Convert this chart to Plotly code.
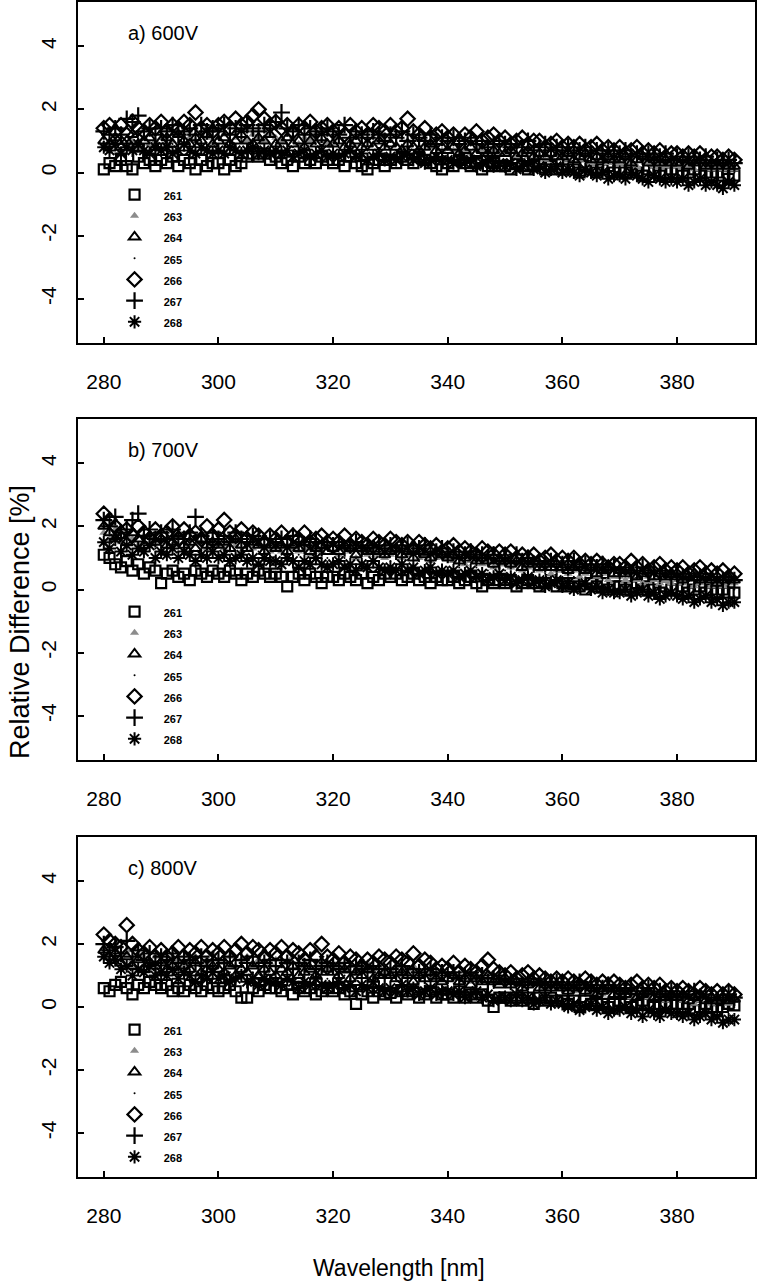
import plotly.graph_objects as go

wavelength = list(range(280, 391))
series_names = ["261", "263", "264", "265", "266", "267", "268"]
panel_titles = ["a) 600V", "b) 700V", "c) 800V"]
x_ticks = [280, 300, 320, 340, 360, 380]
y_ticks = [-4, -2, 0, 2, 4]
y_tick_labels = ["-4", "-2", "0", "2", "4"]

# ---------------- panel a: 600 V ----------------
a_261 = [0.1, 0.3, 0.2, 0.4, 0.2, 0.1, 0.5, 0.3, 0.4, 0.2,
         0.4, 0.3, 0.5, 0.2, 0.4, 0.3, 0.1, 0.4, 0.2, 0.3,
         0.3, 0.1, 0.4, 0.2, 0.3, 0.5, 0.6, 0.5, 0.6, 0.4,
         0.5, 0.3, 0.4, 0.2, 0.5, 0.3, 0.4, 0.3, 0.5, 0.4,
         0.3, 0.4, 0.2, 0.5, 0.3, 0.2, 0.1, 0.3, 0.4, 0.2,
         0.4, 0.3, 0.5, 0.4, 0.3, 0.5, 0.4, 0.3, 0.2, 0.1,
         0.3, 0.2, 0.4, 0.3, 0.2, 0.3, 0.1, 0.2, 0.3, 0.2,
         0.2, 0.1, 0.3, 0.2, 0.1, 0.2, 0.3, 0.1, 0.2, 0.1,
         0.1, 0.2, 0.1, 0.0, 0.2, 0.1, 0.0, 0.1, 0.2, 0.0,
         0.1, 0.0, 0.1, 0.0, -0.1, 0.1, 0.0, -0.1, 0.0, 0.1,
         0.0, -0.1, 0.0, 0.1, -0.1, 0.0, -0.1, 0.0, -0.1, -0.2,
         -0.1]
a_263 = [0.9, 0.8, 1.0, 0.7, 0.9, 1.0, 0.8, 1.1, 0.9, 1.0,
         1.1, 0.9, 1.0, 1.2, 0.9, 1.1, 1.0, 1.2, 1.1, 0.9,
         1.1, 1.2, 1.0, 1.1, 1.3, 1.0, 1.2, 1.1, 1.0, 1.2,
         1.1, 1.0, 1.2, 1.1, 0.9, 1.1, 1.0, 1.2, 1.0, 0.9,
         1.0, 1.1, 0.9, 1.0, 1.1, 0.9, 1.0, 0.9, 1.1, 0.9,
         1.0, 0.9, 0.8, 1.0, 0.9, 0.8, 0.9, 0.8, 0.9, 0.7,
         0.8, 0.7, 0.8, 0.7, 0.6, 0.8, 0.7, 0.6, 0.7, 0.6,
         0.6, 0.7, 0.5, 0.6, 0.5, 0.6, 0.5, 0.4, 0.5, 0.6,
         0.5, 0.4, 0.5, 0.4, 0.5, 0.3, 0.4, 0.5, 0.3, 0.4,
         0.3, 0.4, 0.3, 0.2, 0.4, 0.3, 0.2, 0.3, 0.2, 0.3,
         0.2, 0.3, 0.2, 0.1, 0.3, 0.2, 0.1, 0.2, 0.1, 0.2,
         0.1]
a_264 = [1.0, 0.9, 1.1, 0.8, 1.0, 1.2, 0.9, 1.0, 1.1, 0.8,
         1.0, 1.1, 0.9, 1.2, 1.0, 0.9, 1.1, 1.0, 1.2, 0.9,
         1.0, 1.1, 0.9, 1.0, 1.2, 1.0, 0.9, 1.1, 1.0, 1.2,
         0.9, 1.0, 1.1, 0.9, 1.0, 0.8, 1.0, 0.9, 1.1, 0.9,
         0.9, 1.0, 0.8, 0.9, 1.0, 0.8, 0.9, 0.8, 1.0, 0.8,
         0.9, 0.8, 0.7, 0.9, 0.8, 0.7, 0.8, 0.9, 0.7, 0.8,
         0.7, 0.8, 0.6, 0.7, 0.8, 0.6, 0.7, 0.6, 0.7, 0.6,
         0.6, 0.7, 0.5, 0.6, 0.7, 0.5, 0.6, 0.5, 0.6, 0.5,
         0.5, 0.6, 0.4, 0.5, 0.6, 0.4, 0.5, 0.4, 0.5, 0.4,
         0.4, 0.5, 0.3, 0.4, 0.5, 0.3, 0.4, 0.3, 0.4, 0.3,
         0.3, 0.4, 0.2, 0.3, 0.4, 0.2, 0.3, 0.2, 0.3, 0.2,
         0.2]
a_265 = [0.7, 0.6, 0.8, 0.7, 0.6, 0.8, 0.7, 0.9, 0.6, 0.7,
         0.8, 0.7, 0.9, 0.8, 0.7, 0.8, 0.9, 0.7, 0.8, 0.9,
         0.8, 0.9, 0.7, 0.8, 1.0, 0.8, 0.9, 0.8, 0.7, 0.9,
         0.8, 0.7, 0.9, 0.8, 0.7, 0.8, 0.7, 0.9, 0.8, 0.7,
         0.7, 0.8, 0.6, 0.7, 0.8, 0.6, 0.7, 0.6, 0.7, 0.6,
         0.6, 0.7, 0.5, 0.6, 0.7, 0.5, 0.6, 0.5, 0.6, 0.5,
         0.5, 0.6, 0.4, 0.5, 0.6, 0.4, 0.5, 0.4, 0.5, 0.4,
         0.4, 0.5, 0.3, 0.4, 0.5, 0.3, 0.4, 0.3, 0.4, 0.3,
         0.3, 0.4, 0.2, 0.3, 0.4, 0.2, 0.3, 0.2, 0.3, 0.2,
         0.2, 0.3, 0.1, 0.2, 0.1, 0.2, 0.1, 0.0, 0.1, 0.2,
         0.1, 0.0, 0.1, 0.0, 0.1, -0.1, 0.0, 0.1, 0.0, -0.1,
         0.0]
a_266 = [1.4, 1.5, 1.3, 1.5, 1.2, 1.6, 1.4, 1.3, 1.5, 1.4,
         1.6, 1.3, 1.5, 1.4, 1.6, 1.5, 1.9, 1.4, 1.5, 1.3,
         1.5, 1.6, 1.4, 1.7, 1.5, 1.6, 1.8, 2.0, 1.7, 1.5,
         1.6, 1.4, 1.5, 1.3, 1.5, 1.4, 1.6, 1.3, 1.4, 1.5,
         1.3, 1.4, 1.2, 1.5, 1.3, 1.4, 1.2, 1.5, 1.4, 1.3,
         1.5, 1.3, 1.4, 1.7, 1.3, 1.2, 1.4, 1.1, 1.2, 1.3,
         1.1, 1.2, 1.0, 1.2, 1.1, 1.3, 1.0, 1.1, 1.2, 1.0,
         1.1, 0.9, 1.0, 1.1, 0.9, 1.0, 1.0, 0.8, 0.9, 1.0,
         0.8, 0.9, 0.8, 0.9, 0.7, 0.8, 0.9, 0.7, 0.8, 0.7,
         0.8, 0.6, 0.7, 0.8, 0.6, 0.7, 0.6, 0.7, 0.5, 0.6,
         0.6, 0.5, 0.6, 0.5, 0.6, 0.4, 0.5, 0.5, 0.4, 0.5,
         0.4]
a_267 = [1.3, 1.2, 1.4, 1.2, 1.7, 1.6, 1.8, 1.3, 1.4, 1.2,
         1.4, 1.3, 1.5, 1.2, 1.3, 1.4, 1.2, 1.5, 1.3, 1.4,
         1.3, 1.5, 1.2, 1.4, 1.3, 1.5, 1.4, 1.3, 1.5, 1.4,
         1.6, 1.9, 1.4, 1.3, 1.5, 1.2, 1.4, 1.3, 1.2, 1.4,
         1.3, 1.2, 1.5, 1.1, 1.3, 1.2, 1.1, 1.3, 1.2, 1.0,
         1.2, 1.1, 1.3, 1.0, 1.2, 1.1, 1.0, 1.2, 0.9, 1.1,
         1.0, 1.1, 0.9, 1.0, 1.1, 0.9, 1.0, 0.8, 0.9, 1.0,
         0.9, 0.8, 0.9, 0.8, 1.0, 0.7, 0.8, 0.9, 0.7, 0.8,
         0.7, 0.8, 0.6, 0.7, 0.8, 0.6, 0.7, 0.6, 0.7, 0.5,
         0.6, 0.7, 0.5, 0.6, 0.5, 0.6, 0.4, 0.5, 0.6, 0.4,
         0.5, 0.4, 0.5, 0.3, 0.4, 0.5, 0.3, 0.4, 0.3, 0.4,
         0.3]
a_268 = [0.8, 0.7, 0.9, 0.6, 0.8, 0.7, 0.9, 0.7, 0.6, 0.8,
         0.7, 0.8, 0.6, 0.7, 0.9, 0.7, 0.6, 0.8, 0.7, 0.6,
         0.7, 0.6, 0.8, 0.7, 0.6, 0.7, 0.8, 0.6, 0.7, 0.6,
         0.7, 0.6, 0.7, 0.5, 0.6, 0.7, 0.5, 0.6, 0.7, 0.5,
         0.6, 0.5, 0.6, 0.7, 0.5, 0.6, 0.4, 0.5, 0.6, 0.4,
         0.5, 0.4, 0.5, 0.6, 0.4, 0.5, 0.3, 0.4, 0.5, 0.4,
         0.4, 0.3, 0.4, 0.3, 0.4, 0.2, 0.3, 0.4, 0.2, 0.3,
         0.2, 0.3, 0.1, 0.2, 0.3, 0.1, 0.2, 0.0, 0.1, 0.2,
         0.0, 0.1, 0.0, -0.1, 0.1, 0.0, -0.1, 0.0, -0.2, -0.1,
         -0.1, -0.2, 0.0, -0.1, -0.2, -0.3, -0.1, -0.2, -0.3, -0.2,
         -0.3, -0.2, -0.4, -0.3, -0.2, -0.4, -0.3, -0.4, -0.5, -0.3,
         -0.4]

# ---------------- panel b: 700 V ----------------
b_261 = [1.1, 1.0, 0.8, 0.7, 0.9, 0.6, 0.8, 0.5, 0.7, 0.6,
         0.2, 0.5, 0.6, 0.4, 0.5, 0.3, 0.6, 0.5, 0.4, 0.6,
         0.5, 0.4, 0.6, 0.5, 0.3, 0.5, 0.4, 0.6, 0.5, 0.4,
         0.5, 0.4, 0.1, 0.4, 0.5, 0.3, 0.5, 0.4, 0.2, 0.4,
         0.4, 0.3, 0.5, 0.4, 0.3, 0.5, 0.2, 0.4, 0.3, 0.5,
         0.4, 0.5, 0.3, 0.4, 0.5, 0.3, 0.4, 0.2, 0.4, 0.3,
         0.3, 0.4, 0.2, 0.3, 0.4, 0.2, 0.1, 0.3, 0.2, 0.3,
         0.2, 0.3, 0.1, 0.2, 0.3, 0.2, 0.1, 0.2, 0.3, 0.1,
         0.2, 0.1, 0.2, 0.1, 0.0, 0.2, 0.1, 0.2, 0.0, 0.1,
         0.1, 0.0, 0.1, 0.2, 0.0, 0.1, 0.0, -0.1, 0.1, 0.0,
         0.0, 0.1, -0.1, 0.0, 0.1, -0.1, 0.0, -0.1, 0.0, -0.1,
         -0.1]
b_263 = [1.8, 1.6, 1.9, 1.5, 1.7, 1.6, 1.4, 1.7, 1.5, 1.6,
         1.5, 1.6, 1.4, 1.7, 1.5, 1.4, 1.6, 1.5, 1.3, 1.5,
         1.4, 1.3, 1.5, 1.4, 1.2, 1.4, 1.3, 1.5, 1.3, 1.2,
         1.3, 1.2, 1.4, 1.3, 1.2, 1.3, 1.1, 1.3, 1.2, 1.4,
         1.2, 1.1, 1.3, 1.2, 1.0, 1.2, 1.1, 1.3, 1.1, 1.0,
         1.1, 1.2, 1.0, 1.1, 1.2, 1.0, 1.1, 0.9, 1.0, 1.1,
         1.0, 0.9, 1.0, 0.8, 0.9, 1.0, 0.8, 0.9, 0.7, 0.8,
         0.8, 0.7, 0.8, 0.6, 0.7, 0.8, 0.6, 0.7, 0.5, 0.6,
         0.6, 0.5, 0.6, 0.4, 0.5, 0.6, 0.4, 0.5, 0.3, 0.4,
         0.4, 0.3, 0.4, 0.3, 0.2, 0.4, 0.3, 0.2, 0.3, 0.2,
         0.3, 0.2, 0.3, 0.1, 0.2, 0.3, 0.1, 0.2, 0.1, 0.2,
         0.2]
b_264 = [2.0, 1.8, 1.6, 1.7, 1.5, 1.8, 1.6, 1.4, 1.7, 1.5,
         1.6, 1.4, 1.5, 1.7, 1.4, 1.5, 1.3, 1.6, 1.4, 1.5,
         1.4, 1.5, 1.3, 1.6, 1.4, 1.3, 1.5, 1.4, 1.2, 1.4,
         1.3, 1.4, 1.2, 1.4, 1.3, 1.5, 1.2, 1.3, 1.4, 1.2,
         1.3, 1.2, 1.4, 1.3, 1.1, 1.3, 1.2, 1.4, 1.2, 1.1,
         1.2, 1.3, 1.1, 1.2, 1.0, 1.2, 1.1, 1.0, 1.2, 1.1,
         1.0, 1.1, 0.9, 1.0, 1.1, 0.9, 1.0, 0.9, 0.8, 0.9,
         0.9, 0.8, 0.9, 0.7, 0.8, 0.9, 0.7, 0.8, 0.7, 0.8,
         0.7, 0.6, 0.7, 0.8, 0.6, 0.7, 0.5, 0.6, 0.7, 0.5,
         0.6, 0.5, 0.6, 0.4, 0.5, 0.6, 0.4, 0.5, 0.4, 0.5,
         0.4, 0.3, 0.4, 0.5, 0.3, 0.4, 0.3, 0.2, 0.3, 0.4,
         0.3]
b_265 = [1.5, 1.3, 1.4, 1.2, 1.4, 1.1, 1.3, 1.2, 1.0, 1.3,
         1.1, 1.2, 1.0, 1.2, 1.1, 1.3, 1.0, 1.1, 1.2, 1.0,
         1.1, 1.0, 1.2, 1.1, 0.9, 1.1, 1.0, 1.2, 1.0, 0.9,
         1.0, 1.1, 0.9, 1.0, 1.1, 0.9, 1.0, 0.9, 1.1, 1.0,
         1.0, 0.9, 1.0, 0.8, 1.0, 0.9, 0.8, 1.0, 0.9, 0.8,
         0.9, 0.8, 0.9, 0.7, 0.8, 0.9, 0.7, 0.8, 0.7, 0.8,
         0.7, 0.6, 0.7, 0.8, 0.6, 0.7, 0.5, 0.6, 0.7, 0.5,
         0.6, 0.5, 0.6, 0.4, 0.5, 0.6, 0.4, 0.5, 0.4, 0.5,
         0.4, 0.3, 0.4, 0.5, 0.3, 0.4, 0.2, 0.3, 0.4, 0.2,
         0.3, 0.2, 0.3, 0.1, 0.2, 0.3, 0.1, 0.2, 0.0, 0.1,
         0.1, 0.2, 0.0, 0.1, 0.2, 0.0, 0.1, -0.1, 0.0, 0.1,
         0.0]
b_266 = [2.4, 2.2, 2.0, 1.8, 1.9, 1.7, 2.0, 1.8, 1.6, 1.9,
         1.7, 1.8, 2.0, 1.6, 1.9, 1.7, 1.8, 1.6, 2.0, 1.7,
         1.9, 2.2, 1.8, 1.7, 1.9, 1.6, 1.8, 1.7, 1.5, 1.7,
         1.6, 1.8, 1.5, 1.7, 1.6, 1.8, 1.5, 1.6, 1.7, 1.5,
         1.6, 1.5, 1.7, 1.4, 1.6, 1.5, 1.4, 1.6, 1.5, 1.4,
         1.6, 1.5, 1.4, 1.5, 1.3, 1.5, 1.4, 1.3, 1.4, 1.2,
         1.3, 1.4, 1.2, 1.3, 1.2, 1.1, 1.3, 1.2, 1.1, 1.2,
         1.1, 1.2, 1.0, 1.1, 1.0, 1.1, 0.9, 1.0, 1.1, 0.9,
         1.0, 0.9, 1.0, 0.8, 0.9, 0.8, 0.9, 0.8, 0.7, 0.8,
         0.8, 0.7, 0.9, 0.7, 0.8, 0.6, 0.7, 0.8, 0.6, 0.7,
         0.6, 0.7, 0.5, 0.6, 0.7, 0.5, 0.6, 0.5, 0.6, 0.4,
         0.5]
b_267 = [2.2, 2.0, 2.3, 1.8, 1.9, 2.2, 2.4, 1.7, 1.9, 1.6,
         1.8, 1.6, 1.9, 1.7, 1.6, 1.8, 2.3, 1.7, 1.5, 1.8,
         1.6, 1.7, 1.5, 1.8, 1.6, 1.5, 1.7, 1.6, 1.4, 1.6,
         1.5, 1.6, 1.4, 1.7, 1.5, 1.4, 1.6, 1.5, 1.3, 1.5,
         1.4, 1.5, 1.3, 1.4, 1.5, 1.3, 1.4, 1.2, 1.4, 1.3,
         1.4, 1.2, 1.3, 1.4, 1.2, 1.3, 1.4, 1.1, 1.2, 1.3,
         1.1, 1.2, 1.0, 1.1, 1.2, 1.0, 1.1, 1.0, 1.1, 0.9,
         1.0, 0.9, 1.1, 0.9, 1.0, 0.8, 0.9, 0.8, 0.9, 0.8,
         0.8, 0.7, 0.9, 0.7, 0.8, 0.6, 0.7, 0.8, 0.6, 0.7,
         0.6, 0.7, 0.5, 0.6, 0.7, 0.5, 0.6, 0.5, 0.6, 0.4,
         0.5, 0.4, 0.5, 0.3, 0.4, 0.5, 0.3, 0.4, 0.3, 0.4,
         0.3]
b_268 = [1.5, 1.3, 1.6, 1.2, 1.4, 1.1, 1.3, 1.2, 1.4, 1.0,
         1.2, 1.1, 1.3, 1.0, 1.2, 1.1, 0.9, 1.1, 1.0, 1.2,
         1.0, 1.1, 0.9, 1.0, 1.1, 0.9, 1.0, 0.8, 1.0, 0.9,
         0.9, 0.8, 1.0, 0.9, 0.7, 0.9, 0.8, 1.0, 0.8, 0.7,
         0.8, 0.9, 0.7, 0.8, 0.6, 0.8, 0.7, 0.9, 0.7, 0.6,
         0.7, 0.6, 0.8, 0.6, 0.7, 0.5, 0.6, 0.7, 0.5, 0.6,
         0.5, 0.6, 0.4, 0.5, 0.6, 0.4, 0.5, 0.3, 0.4, 0.5,
         0.3, 0.4, 0.2, 0.3, 0.4, 0.2, 0.3, 0.1, 0.2, 0.3,
         0.1, 0.2, 0.0, 0.1, 0.2, 0.0, 0.1, -0.1, 0.0, -0.1,
         -0.1, 0.0, -0.2, -0.1, 0.0, -0.2, -0.1, -0.3, -0.2, -0.1,
         -0.2, -0.3, -0.2, -0.4, -0.3, -0.2, -0.4, -0.3, -0.5, -0.4,
         -0.4]

# ---------------- panel c: 800 V ----------------
c_261 = [0.6, 0.5, 0.7, 0.8, 0.6, 0.4, 0.7, 0.6, 0.8, 0.7,
         0.6, 0.7, 0.5, 0.6, 0.5, 0.7, 0.6, 0.5, 0.7, 0.6,
         0.5, 0.6, 0.7, 0.5, 0.3, 0.3, 0.6, 0.5, 0.7, 0.6,
         0.6, 0.5, 0.7, 0.4, 0.6, 0.5, 0.6, 0.4, 0.5, 0.6,
         0.5, 0.6, 0.4, 0.5, 0.1, 0.4, 0.5, 0.3, 0.5, 0.4,
         0.45, 0.3, 0.5, 0.4, 0.5, 0.3, 0.4, 0.5, 0.3, 0.4,
         0.4, 0.3, 0.5, 0.3, 0.4, 0.3, 0.4, 0.2, 0.0, 0.3,
         0.3, 0.2, 0.3, 0.2, 0.3, 0.1, 0.3, 0.2, 0.3, 0.2,
         0.2, 0.1, 0.2, 0.0, 0.2, 0.1, 0.2, 0.1, 0.0, 0.1,
         0.2, 0.1, 0.0, 0.1, 0.2, 0.1, 0.0, 0.1, 0.0, 0.1,
         0.1, 0.0, 0.1, -0.1, 0.0, 0.1, 0.0, -0.1, 0.0, 0.1,
         0.05]
c_263 = [1.9, 1.7, 2.0, 1.6, 1.8, 1.5, 1.7, 1.6, 1.4, 1.6,
         1.5, 1.4, 1.6, 1.5, 1.3, 1.5, 1.6, 1.4, 1.5, 1.7,
         1.5, 1.4, 1.6, 1.3, 1.5, 1.6, 1.4, 1.5, 1.3, 1.4,
         1.5, 1.3, 1.4, 1.6, 1.3, 1.4, 1.5, 1.3, 1.4, 1.2,
         1.3, 1.4, 1.2, 1.3, 1.1, 1.3, 1.4, 1.2, 1.3, 1.1,
         1.2, 1.3, 1.1, 1.2, 1.3, 1.0, 1.2, 1.1, 1.0, 1.1,
         1.0, 1.1, 0.9, 1.0, 0.8, 1.0, 0.9, 1.1, 0.8, 0.9,
         0.8, 0.9, 0.7, 0.8, 0.9, 0.7, 0.8, 0.6, 0.7, 0.8,
         0.6, 0.7, 0.5, 0.6, 0.7, 0.5, 0.6, 0.4, 0.5, 0.6,
         0.4, 0.5, 0.3, 0.4, 0.5, 0.3, 0.4, 0.3, 0.2, 0.4,
         0.3, 0.2, 0.3, 0.1, 0.2, 0.3, 0.1, 0.2, 0.3, 0.1,
         0.2]
c_264 = [1.8, 1.6, 1.7, 1.4, 1.6, 1.3, 1.5, 1.2, 1.4, 1.3,
         1.4, 1.2, 1.3, 1.1, 1.3, 1.2, 1.4, 1.1, 1.2, 1.3,
         1.2, 1.1, 1.3, 1.0, 1.2, 1.1, 1.3, 1.0, 1.2, 1.1,
         1.0, 1.2, 1.1, 1.3, 1.0, 1.1, 1.2, 1.0, 1.1, 1.2,
         1.1, 1.0, 1.2, 0.9, 1.1, 1.0, 1.2, 0.9, 1.0, 1.1,
         1.0, 0.9, 1.1, 1.0, 0.8, 1.0, 0.9, 1.1, 0.9, 0.8,
         0.9, 1.0, 0.8, 0.9, 0.7, 0.9, 0.8, 1.0, 0.8, 0.7,
         0.8, 0.7, 0.8, 0.6, 0.7, 0.8, 0.6, 0.7, 0.6, 0.7,
         0.6, 0.5, 0.6, 0.7, 0.5, 0.6, 0.4, 0.5, 0.6, 0.4,
         0.5, 0.4, 0.5, 0.3, 0.4, 0.5, 0.3, 0.4, 0.3, 0.4,
         0.3, 0.4, 0.2, 0.3, 0.4, 0.2, 0.3, 0.2, 0.3, 0.2,
         0.25]
c_265 = [1.5, 1.3, 1.4, 1.1, 1.3, 1.0, 1.2, 1.1, 0.9, 1.1,
         1.0, 1.1, 0.9, 1.2, 1.0, 1.1, 0.9, 1.0, 1.1, 0.9,
         1.0, 0.9, 1.1, 0.8, 1.0, 0.9, 1.1, 0.9, 0.8, 1.0,
         0.9, 1.0, 0.8, 0.9, 1.0, 0.8, 0.9, 1.0, 0.8, 0.9,
         0.9, 0.8, 1.0, 0.7, 0.9, 0.8, 0.7, 0.9, 0.8, 0.7,
         0.8, 0.7, 0.8, 0.6, 0.7, 0.8, 0.6, 0.7, 0.6, 0.7,
         0.6, 0.5, 0.6, 0.7, 0.5, 0.6, 0.4, 0.5, 0.6, 0.4,
         0.5, 0.4, 0.5, 0.3, 0.4, 0.5, 0.3, 0.4, 0.3, 0.4,
         0.3, 0.2, 0.3, 0.4, 0.2, 0.3, 0.1, 0.2, 0.3, 0.1,
         0.2, 0.1, 0.2, 0.0, 0.1, 0.2, 0.0, 0.1, 0.2, 0.0,
         0.1, 0.0, 0.1, 0.2, 0.0, 0.1, -0.1, 0.0, 0.1, -0.1,
         0.0]
c_266 = [2.3, 2.1, 2.0, 1.9, 2.6, 2.0, 1.8, 1.7, 1.9, 1.6,
         1.8, 1.6, 1.7, 1.9, 1.6, 1.8, 1.7, 1.9, 1.6, 1.8,
         1.7, 1.9, 1.6, 1.8, 2.0, 1.7, 1.9, 1.8, 1.6, 1.8,
         1.7, 1.9, 1.6, 1.8, 1.7, 1.5, 1.8, 1.6, 2.0, 1.6,
         1.5, 1.7, 1.4, 1.6, 1.5, 1.3, 1.5, 1.4, 1.6, 1.5,
         1.4, 1.6, 1.5, 1.4, 1.7, 1.3, 1.5, 1.4, 1.2, 1.3,
         1.2, 1.4, 1.1, 1.3, 1.2, 1.1, 1.3, 1.5, 1.2, 1.1,
         1.0, 1.1, 0.9, 1.0, 1.1, 0.9, 1.0, 0.9, 0.8, 0.9,
         0.8, 0.9, 0.8, 0.7, 0.9, 0.8, 0.7, 0.8, 0.7, 0.8,
         0.7, 0.6, 0.7, 0.8, 0.6, 0.7, 0.6, 0.7, 0.5, 0.6,
         0.5, 0.6, 0.5, 0.4, 0.6, 0.5, 0.4, 0.5, 0.4, 0.5,
         0.4]
c_267 = [2.0, 1.8, 1.9, 1.7, 2.1, 1.6, 1.8, 1.5, 1.7, 1.4,
         1.6, 1.5, 1.7, 1.4, 1.6, 1.5, 1.4, 1.6, 1.3, 1.5,
         1.5, 1.4, 1.6, 1.3, 1.5, 1.4, 1.6, 1.3, 1.4, 1.5,
         1.3, 1.5, 1.4, 1.2, 1.4, 1.3, 1.5, 1.2, 1.3, 1.4,
         1.3, 1.2, 1.4, 1.1, 1.3, 1.2, 1.1, 1.3, 1.2, 1.0,
         1.2, 1.1, 1.3, 1.0, 1.2, 1.1, 1.0, 1.2, 0.9, 1.1,
         1.0, 1.1, 0.9, 1.0, 1.1, 0.9, 1.0, 0.8, 0.9, 1.0,
         0.9, 0.8, 0.9, 0.7, 0.8, 0.9, 0.7, 0.8, 0.7, 0.8,
         0.7, 0.6, 0.7, 0.8, 0.6, 0.7, 0.5, 0.6, 0.7, 0.5,
         0.6, 0.5, 0.6, 0.4, 0.5, 0.6, 0.4, 0.5, 0.4, 0.5,
         0.4, 0.3, 0.4, 0.5, 0.3, 0.4, 0.3, 0.2, 0.3, 0.4,
         0.3]
c_268 = [1.6, 1.4, 1.5, 1.2, 1.3, 1.0, 1.2, 1.1, 1.3, 1.0,
         1.1, 1.0, 1.2, 0.9, 1.1, 1.0, 0.8, 1.0, 0.9, 1.1,
         0.9, 1.0, 0.8, 0.9, 1.0, 0.8, 0.9, 0.7, 0.9, 0.8,
         0.8, 0.7, 0.9, 0.8, 0.6, 0.8, 0.7, 0.9, 0.7, 0.6,
         0.7, 0.8, 0.6, 0.7, 0.5, 0.7, 0.6, 0.8, 0.6, 0.5,
         0.6, 0.5, 0.7, 0.5, 0.6, 0.4, 0.5, 0.6, 0.4, 0.5,
         0.5, 0.4, 0.5, 0.3, 0.4, 0.5, 0.3, 0.4, 0.2, 0.3,
         0.3, 0.2, 0.4, 0.2, 0.3, 0.1, 0.2, 0.3, 0.1, 0.2,
         0.1, 0.0, 0.1, -0.1, 0.0, 0.1, -0.1, 0.0, -0.2, -0.1,
         -0.1, 0.0, -0.2, -0.1, -0.3, -0.1, -0.2, -0.3, -0.1, -0.2,
         -0.2, -0.3, -0.2, -0.4, -0.3, -0.2, -0.4, -0.3, -0.5, -0.4,
         -0.4]

panels = [
    [a_261, a_263, a_264, a_265, a_266, a_267, a_268],
    [b_261, b_263, b_264, b_265, b_266, b_267, b_268],
    [c_261, c_263, c_264, c_265, c_266, c_267, c_268],
]

# marker styles: (symbol, size, colour, line width)
styles = [
    ("square-open", 10, "black", 2.2),
    ("triangle-up", 8, "#8c8c8c", 0),
    ("triangle-up-open", 10, "black", 2.0),
    ("circle", 2, "black", 0),
    ("diamond-open", 11, "black", 2.2),
    ("cross-thin-open", 12, "black", 2.2),
    ("asterisk-open", 11, "black", 2.0),
]

FONT = "Liberation Sans, Arial, Helvetica, sans-serif"

# plot area spans pixel rows 2..1177 (height 1175)
def py(px):
    return (1177 - px) / 1175.0

panel_tops = [2, 419, 837]
panel_bots = [343, 760, 1177]

fig = go.Figure()
for p, series in enumerate(panels):
    ax = "" if p == 0 else str(p + 1)
    leg = "legend" if p == 0 else "legend" + str(p + 1)
    for name, vals, st in zip(series_names, series, styles):
        sym, size, col, lw = st
        label = "<b><span style='font-size:11px'>\u00a0\u00a0\u00a0" + name + "</span></b>"
        fig.add_trace(go.Scatter(
            x=wavelength, y=vals, mode="markers", name=label,
            marker=dict(symbol=sym, size=size, color=col,
                        line=dict(width=lw, color=col)),
            xaxis="x" + ax, yaxis="y" + ax, legend=leg,
            showlegend=True, hoverinfo="skip",
        ))

layout = dict(
    width=757, height=1286, autosize=False,
    margin=dict(l=78, r=2, t=2, b=109, autoexpand=False),
    paper_bgcolor="white", plot_bgcolor="white",
    font=dict(family=FONT, color="black"),
    showlegend=True,
)

for p in range(3):
    ax = "" if p == 0 else str(p + 1)
    dom = [py(panel_bots[p]), py(panel_tops[p])]
    layout["xaxis" + ax] = dict(
        domain=[0, 1], range=[275.5, 393.6], anchor="y" + ax,
        tickvals=x_ticks, ticks="inside", ticklen=6, tickwidth=1.5,
        tickcolor="black", showline=True, linecolor="black", linewidth=2,
        mirror=True, showgrid=False, zeroline=False, automargin=False,
        tickfont=dict(size=21, family=FONT), ticklabelstandoff=19,
    )
    layout["yaxis" + ax] = dict(
        domain=dom, range=[-5.4, 5.4], anchor="x" + ax,
        tickvals=y_ticks, ticktext=y_tick_labels,
        ticks="inside", ticklen=6, tickwidth=1.5,
        tickcolor="black", showline=True, linecolor="black", linewidth=2,
        mirror=True, showgrid=False, zeroline=False, tickangle=-90,
        automargin=False,
        tickfont=dict(size=21, family=FONT), ticklabelstandoff=12,
    )
    leg = "legend" if p == 0 else "legend" + str(p + 1)
    layout[leg] = dict(
        x=0.054, y=py(panel_tops[p] + 177), xanchor="left", yanchor="top",
        bgcolor="rgba(0,0,0,0)", borderwidth=0,
        font=dict(size=14, family=FONT, color="black"),
        tracegroupgap=0,
    )

annotations = []
for p in range(3):
    annotations.append(dict(
        text=panel_titles[p], xref="paper", yref="paper",
        x=(126 - 78) / 677.0, y=py(panel_tops[p] + 31),
        xanchor="left", yanchor="middle", showarrow=False,
        font=dict(size=20, family=FONT, color="black"),
    ))
annotations.append(dict(
    text="Wavelength [nm]", xref="paper", yref="paper",
    x=(399 - 78) / 677.0, y=py(1268), xanchor="center", yanchor="middle",
    showarrow=False, font=dict(size=23, family=FONT, color="black"),
))
annotations.append(dict(
    text="Relative Difference [%]", xref="paper", yref="paper",
    x=(20 - 78) / 677.0, y=py(622), xanchor="center", yanchor="middle",
    textangle=-90, showarrow=False,
    font=dict(size=27, family=FONT, color="black"),
))
layout["annotations"] = annotations

fig.update_layout(**layout)

post = (
    "document.body.style.margin='0';"
    "document.body.style.padding='0';"
    "document.body.style.overflow='hidden';"
    "var gd=document.getElementById('{plot_id}');"
    "Plotly.relayout(gd,{width:757,height:1286});"
)
fig.write_html("out.html", post_script=post,
               config={"responsive": False, "displayModeBar": False})
